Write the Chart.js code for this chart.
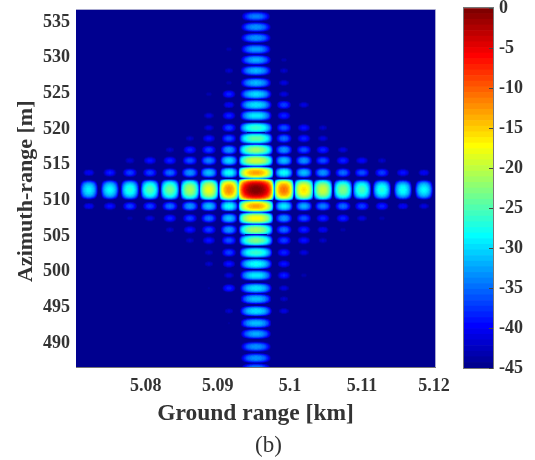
<!DOCTYPE html>
<html>
<head>
<meta charset="utf-8">
<script src="https://cdn.jsdelivr.net/npm/chart.js@4"></script>
<style>
    html, body { margin: 0; padding: 0; background: #fff; overflow: hidden; }
    canvas { position: absolute; top: 0; filter: blur(0.35px); }
    #mapCanvas { left: 0; }
    #barCanvas { left: 440px; }
    #caption {
        position: absolute; left: 1px; width: 535px; top: 432px;
        text-align: center; font: 23px/25px "Liberation Serif", serif; color: #333;
    }
</style>
</head>
<body>
<canvas id="mapCanvas" width="535" height="460"></canvas>
<canvas id="barCanvas" width="95" height="460"></canvas>
<div id="caption">(b)</div>
<script>
const xTicks = [5.08, 5.09, 5.1, 5.11, 5.12]
const yTicks = [490, 495, 500, 505, 510, 515, 520, 525, 530, 535]
const barTicks = [0, -5, -10, -15, -20, -25, -30, -35, -40, -45]

// lobe centres
const groundRange = [5.07208, 5.0750, 5.07778, 5.08056, 5.08333, 5.08611, 5.08875, 5.09153, 5.09528,
    5.09917, 5.10194, 5.10458, 5.10736, 5.1100, 5.11278, 5.11569, 5.11861]
const azimuth = [535.8, 534.3, 532.8, 531.2, 529.7, 528.2, 526.5, 524.9, 523.4, 521.9, 520.2, 518.7, 517.1, 515.6, 513.9,
    511.5,
    509.2, 507.5, 505.9, 504.4, 502.7, 501.1, 499.5, 497.7, 496.2, 494.5, 492.8, 491.3, 489.5, 487.9, 486.5]

// peak level of each lobe in dB, one row per azimuth, one column per ground range
const _ = null
const peakDb = [
    [_, _, _, _, _, _, _, _, -34, _, _, _, _, _, _, _, _],
    [_, _, _, _, _, _, _, _, -33, _, _, _, _, _, _, _, _],
    [_, _, _, _, _, _, _, _, -33, _, _, _, _, _, _, _, _],
    [_, _, _, _, _, _, _, -43, -32.5, _, _, _, _, _, _, _, _],
    [_, _, _, _, _, _, _, _, -32, -43, _, _, _, _, _, _, _],
    [_, _, _, _, _, _, _, -42, -31.5, -42, _, _, _, _, _, _, _],
    [_, _, _, _, _, _, _, -43, -31.5, -41, _, _, _, _, _, _, _],
    [_, _, _, _, _, _, -43, -38, -30, -41, _, _, _, _, _, _, _],
    [_, _, _, _, _, _, _, -40, -29.5, -37, -41, _, _, _, _, _, _],
    [_, _, _, _, _, _, -41, -38, -29, -38, _, _, _, _, _, _, _],
    [_, _, _, _, _, _, -41, -37, -26, -36, -39, -42, _, _, _, _, _],
    [_, _, _, _, _, -42, -39, -36, -24, -35, -38, -41, _, _, _, _, _],
    [_, _, _, _, -42, -38, -37, -33, -21.5, -33, -36, -38, -41, _, _, _, _],
    [_, _, -41.5, -39, -38, -36, -34, -30, -19, -31, -33, -36, -38, -39.5, -42, _, _],
    [-40, -38.5, -37, -37, -35, -33, -31, -28, -13, -28, -31, -33, -35, -36, -37, -39, -40],
    [-29, -28.5, -27, -25, -23.5, -21, -18, -12, 0, -11, -16, -19.5, -23, -25.5, -27, -28, -28.5],
    [-40, -39, -37, -37, -35, -33, -31, -28, -13, -29, -32, -34, -35, -37, -38, -40, -41],
    [_, _, -43, -41, -38, -37, -35, -31, -17, -33, -36, -38, -38, -41, -43, _, _],
    [_, _, _, _, -42, -39, -37, -33, -21, -35, -38, -40, -43, _, _, _, _],
    [_, _, _, _, _, -42, -39, -36, -23, -37, -39, -42, _, _, _, _, _],
    [_, _, _, _, _, _, -42, -37, -26, -38, -41, _, _, _, _, _, _],
    [_, _, _, _, _, _, -42, -39, -28, -39, _, _, _, _, _, _, _],
    [_, _, _, _, _, _, _, -41, -29, -38.5, -43, _, _, _, _, _, _],
    [_, _, _, _, _, _, -44, -38, -29.5, -41, _, _, _, _, _, _, _],
    [_, _, _, _, _, _, _, _, -31, -42, _, _, _, _, _, _, _],
    [_, _, _, _, _, _, _, -42, -29.5, -41, _, _, _, _, _, _, _],
    [_, _, _, _, _, _, _, -44, -31, _, _, _, _, _, _, _, _],
    [_, _, _, _, _, _, _, _, -32, _, _, _, _, _, _, _, _],
    [_, _, _, _, _, _, _, _, -33, _, _, _, _, _, _, _, _],
    [_, _, _, _, _, _, _, _, -33, _, _, _, _, _, _, _, _],
    [_, _, _, _, _, _, _, _, -34, _, _, _, _, _, _, _, _]
]

const FONT = '"Liberation Serif", "Times New Roman", serif'
const TEXT = '#333'
const MAIN_COL = groundRange.indexOf(5.09528)
const MAIN_ROW = azimuth.indexOf(511.5)

function jet(i) {
    const t = (i + 1) / 64
    const c = v => Math.round(255 * Math.min(1, Math.max(0, 1.5 - Math.abs(4 * t - v))))
    return [c(3), c(2), c(1)]
}

function dbToIndex(db) {
    return Math.min(63, Math.max(0, Math.floor((db + 45) / 45 * 64)))
}

// one lobe as a small picture, used as the point style of its point
function lobeSprite(peak, w, h) {
    const cv = document.createElement('canvas')
    cv.width = w
    cv.height = h
    const ctx = cv.getContext('2d')
    const img = ctx.createImageData(w, h)
    for (let py = 0; py < h; py++) {
        for (let px = 0; px < w; px++) {
            const u = (px + 0.5) / w * 2 - 1
            const v = (py + 0.5) / h * 2 - 1
            const db = peak + 20 * Math.log10(Math.cos(u * Math.PI / 2) * Math.cos(v * Math.PI / 2))
            const k = (py * w + px) * 4
            if (db <= -45) continue
            const rgb = jet(dbToIndex(db))
            img.data[k] = rgb[0]
            img.data[k + 1] = rgb[1]
            img.data[k + 2] = rgb[2]
            img.data[k + 3] = 255
        }
    }
    ctx.putImageData(img, 0, 0)
    return cv
}

const points = []
const sprites = []
peakDb.forEach((row, r) => {
    row.forEach((peak, c) => {
        if (peak === null) return
        points.push({ x: groundRange[c], y: azimuth[r] })
        sprites.push(lobeSprite(peak, c === MAIN_COL ? 36 : 20, r === MAIN_ROW ? 22 : 12))
    })
})

const mapBackdrop = {
    id: 'mapBackdrop',
    beforeDatasetsDraw(chart) {
        const a = chart.chartArea
        const ctx = chart.ctx
        ctx.save()
        ctx.fillStyle = 'rgb(0, 0, 143)'
        ctx.fillRect(a.left, a.top, a.width, a.height)
        // the top and right edges are only a pale line
        ctx.strokeStyle = '#a9a9cf'
        ctx.lineWidth = 1
        ctx.beginPath()
        ctx.moveTo(a.left, a.top - 0.5)
        ctx.lineTo(a.right + 0.5, a.top - 0.5)
        ctx.lineTo(a.right + 0.5, a.bottom)
        ctx.stroke()
        ctx.restore()
    }
}

function noScalePadding(scale) {
    scale.paddingTop = 0
    scale.paddingBottom = 0
    scale.paddingLeft = 0
    scale.paddingRight = 0
}

new Chart(document.getElementById('mapCanvas'), {
    type: 'scatter',
    data: {
        datasets: [{
            data: points,
            showLine: false,
            pointRadius: 10,
            pointHoverRadius: 10,
            pointBorderWidth: 0,
            pointStyle: sprites
        }]
    },
    plugins: [mapBackdrop],
    options: {
        responsive: false,
        animation: false,
        events: [],
        layout: { padding: { left: 0, top: 8, right: 100, bottom: 27 } },
        plugins: {
            legend: { display: false },
            tooltip: { enabled: false }
        },
        scales: {
            x: {
                type: 'linear',
                min: 5.0703,
                max: 5.12015,
                afterBuildTicks: scale => { scale.ticks = xTicks.map(value => ({ value })) },
                afterFit: scale => { scale.height = 66; noScalePadding(scale) },
                grid: { display: false, drawTicks: false },
                border: { color: '#777' },
                ticks: {
                    color: TEXT,
                    padding: 9,
                    maxRotation: 0,
                    autoSkip: false,
                    callback: value => String(value),
                    font: { family: FONT, size: 18, weight: 'bold' }
                },
                title: {
                    display: true,
                    text: 'Ground range [km]',
                    color: TEXT,
                    padding: { top: 0, bottom: 5 },
                    font: { family: FONT, size: 23.5, weight: 'bold' }
                }
            },
            y: {
                type: 'linear',
                min: 486.65,
                max: 536.7,
                afterBuildTicks: scale => { scale.ticks = yTicks.map(value => ({ value })) },
                afterFit: scale => { scale.width = 76; noScalePadding(scale) },
                grid: { display: false, drawTicks: false },
                border: { color: '#777' },
                ticks: {
                    color: TEXT,
                    padding: 6,
                    autoSkip: false,
                    font: { family: FONT, size: 18, weight: 'bold' }
                },
                title: {
                    display: true,
                    text: 'Azimuth-range [m] ',
                    color: TEXT,
                    padding: { top: 13, bottom: 0 },
                    font: { family: FONT, size: 22, weight: 'bold' }
                }
            }
        }
    }
})

// colour bar: one floating bar per colour of the map
const bands = []
for (let i = 0; i < 64; i++) {
    const rgb = jet(i)
    bands.push({
        data: [[-45 + i * 45 / 64, -45 + (i + 1) * 45 / 64]],
        backgroundColor: `rgb(${rgb[0]}, ${rgb[1]}, ${rgb[2]})`,
        borderWidth: 0,
        barPercentage: 1,
        categoryPercentage: 1,
        grouped: false
    })
}

const barFrame = {
    id: 'barFrame',
    afterDatasetsDraw(chart) {
        const a = chart.chartArea
        const ctx = chart.ctx
        ctx.save()
        ctx.strokeStyle = '#777'
        ctx.lineWidth = 1
        ctx.strokeRect(a.left - 0.5, a.top - 0.5, a.width + 1, a.height + 1)
        ctx.restore()
    }
}

new Chart(document.getElementById('barCanvas'), {
    type: 'bar',
    data: { labels: [''], datasets: bands },
    plugins: [barFrame],
    options: {
        responsive: false,
        animation: false,
        events: [],
        layout: { padding: { left: 24, top: 8, right: 0, bottom: 92 } },
        plugins: {
            legend: { display: false },
            tooltip: { enabled: false }
        },
        scales: {
            x: { display: false },
            y: {
                position: 'right',
                min: -45,
                max: 0,
                afterBuildTicks: scale => { scale.ticks = barTicks.map(value => ({ value })) },
                afterFit: scale => { scale.width = 42; noScalePadding(scale) },
                grid: { drawOnChartArea: false, tickLength: -4, color: '#444', z: 1 },
                border: { display: false },
                ticks: {
                    color: TEXT,
                    padding: 10,
                    autoSkip: false,
                    font: { family: FONT, size: 18, weight: 'bold' }
                }
            }
        }
    }
})
</script>
</body>
</html>
